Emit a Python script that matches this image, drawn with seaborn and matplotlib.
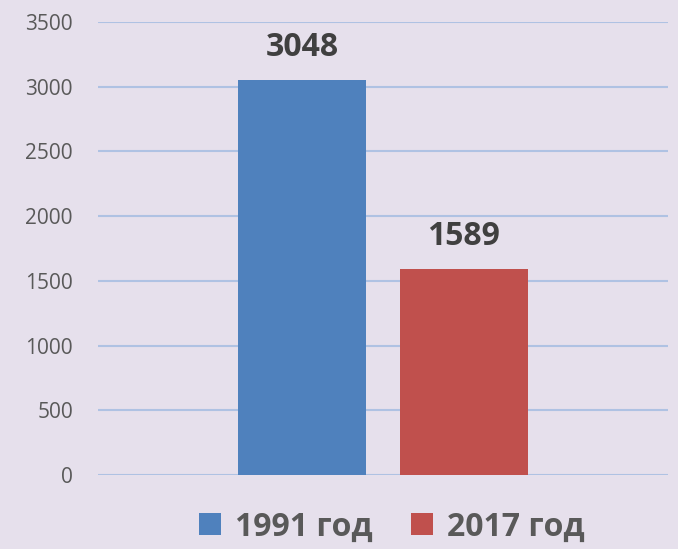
import matplotlib
matplotlib.use("Agg")
import matplotlib.pyplot as plt
import seaborn as sns
import pandas as pd

# --- data ---
years = ["1991 год", "2017 год"]
values = [3048, 1589]
colors = ["#4F81BD", "#C0504D"]
y_ticks = [0, 500, 1000, 1500, 2000, 2500, 3000, 3500]

BG = "#E6E0EC"
GRID = "#AFC2E3"
TEXT = "#595959"

sns.set_theme(style="white")
plt.rcParams["font.family"] = ["Open Sans", "DejaVu Sans"]

df = pd.DataFrame({"year": years, "value": values})

fig = plt.figure(figsize=(6.78, 5.49), dpi=100, facecolor=BG)
ax = fig.add_axes([0.1445, 0.1348, 0.8405, 0.8252])
ax.set_facecolor(BG)

sns.barplot(data=df, x="year", y="value", hue="year", palette=colors,
            width=0.79, dodge=False, saturation=1, linewidth=0,
            legend=True, ax=ax)

# gridlines
ax.set_ylim(0, 3500)
ax.set_yticks(y_ticks)
ax.yaxis.grid(True, color=GRID, linewidth=1.5)
ax.set_axisbelow(True)
ax.set_xlim(-1.26, 2.26)
ax.set_xticks([])
ax.set_xlabel("")
ax.set_ylabel("")
for s in ax.spines.values():
    s.set_visible(False)
ax.tick_params(axis="y", length=0, pad=18, labelsize=15, labelcolor=TEXT)

# value labels
for cont in ax.containers:
    ax.bar_label(cont, fmt="%d", padding=12, fontsize=23,
                 fontweight="bold", color="#404040")

# legend at the bottom
handles, labels = ax.get_legend_handles_labels()
ax.get_legend().remove()
fig.legend(handles, labels, loc="center", bbox_to_anchor=(0.578, 0.04),
           ncol=2, frameon=False, handlelength=0.68, handleheight=0.68,
           handletextpad=0.45, columnspacing=1.2,
           prop={"size": 23, "weight": "bold"}, labelcolor=TEXT)

fig.savefig("out.png", dpi=100, facecolor=BG)
